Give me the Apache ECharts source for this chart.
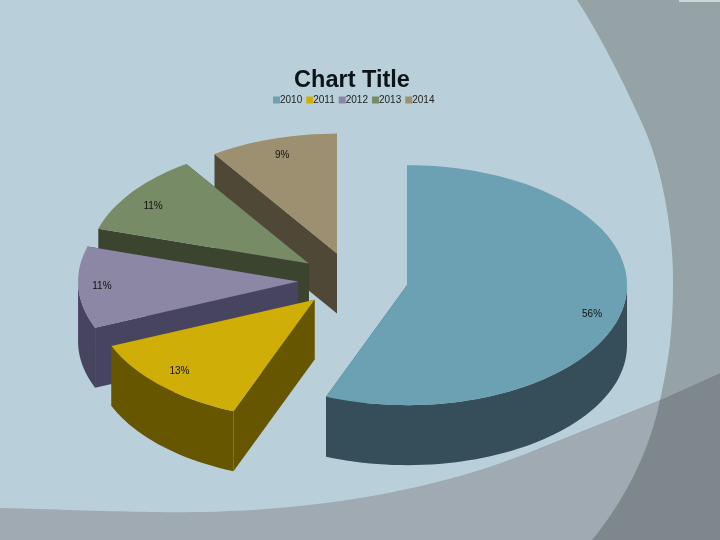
<!DOCTYPE html>
<html>
<head>
<meta charset="utf-8">
<script src="https://cdn.jsdelivr.net/npm/echarts@6/dist/echarts.min.js"></script>
<style>html,body{margin:0;padding:0;background:#B9D0DA}#c{width:720px;height:540px}</style>
</head>
<body>
<div id="c"></div>
<script>
var years = ['2010', '2011', '2012', '2013', '2014'];
var shares = [56.0, 12.7, 11.0, 10.9, 9.4];
var topColors = ['#6BA1B3', '#CFAE08', '#8B87A5', '#768B66', '#9D9070'];
var wallColors = ['#354E5A', '#665600', '#474460', '#3A442F', '#504836'];

var CX = 353, CY = 280, RX = 220, RY = 120, DEPTH = 60, EXPLODE_X = 0.25, EXPLODE_Y = 0.23, LABEL_R = 0.87;
var labelNudgeX = [-3, -1, -5, -2, 1];
var labelNudgeY = [10, -3, 0, 5, 2];
var total = shares.reduce(function (a, b) { return a + b; }, 0);

function pt(cx, cy, deg, fx, fy) {
  var r = deg * Math.PI / 180;
  return [cx + RX * fx * Math.sin(r), cy - RY * (fy === undefined ? fx : fy) * Math.cos(r)];
}
function arc(cx, cy, a, b) {
  var out = [], n = Math.max(2, Math.ceil(Math.abs(b - a) / 2));
  for (var i = 0; i <= n; i++) out.push(pt(cx, cy, a + (b - a) * i / n, 1));
  return out;
}
function down(p) { return [p[0], p[1] + DEPTH]; }

function renderSlice(index) {
  var before = 0;
  for (var i = 0; i < index; i++) before += shares[i];
  var a = before / total * 360, b = (before + shares[index]) / total * 360, mid = (a + b) / 2;
  var apex = pt(CX, CY, mid, EXPLODE_X, EXPLODE_Y);
  var ax = apex[0], ay = apex[1];
  var pa = pt(ax, ay, a, 1), pb = pt(ax, ay, b, 1);
  var kids = [];
  var wall = { fill: wallColors[index] };
  function quad(p) {
    kids.push({ type: 'polygon', shape: { points: [[ax, ay], p, down(p), [ax, ay + DEPTH]] }, style: wall, silent: true });
  }
  quad(pa); quad(pb);
  var wa = Math.max(a, 90), wb = Math.min(b, 270);
  if (wb > wa) {
    var top = arc(ax, ay, wa, wb);
    kids.push({ type: 'polygon', shape: { points: top.concat(top.slice().reverse().map(down)) }, style: wall, silent: true });
  }
  kids.push({ type: 'polygon', shape: { points: [[ax, ay]].concat(arc(ax, ay, a, b)) }, style: { fill: topColors[index] }, silent: true });
  var lp = pt(ax, ay, mid, LABEL_R);
  kids.push({ type: 'text', style: { x: lp[0] + labelNudgeX[index], y: lp[1] + labelNudgeY[index], text: Math.round(shares[index] / total * 100) + '%', fill: '#111', font: '10px "Liberation Sans"', align: 'center', verticalAlign: 'middle' }, silent: true });
  return { type: 'group', children: kids };
}

// backdrop outline helper: cubic segments sampled to a polygon
function curve(p0, p1, p2, p3) {
  var out = [];
  for (var i = 0; i <= 24; i++) {
    var t = i / 24, u = 1 - t;
    out.push([
      u*u*u*p0[0] + 3*u*u*t*p1[0] + 3*u*t*t*p2[0] + t*t*t*p3[0],
      u*u*u*p0[1] + 3*u*u*t*p1[1] + 3*u*t*t*p2[1] + t*t*t*p3[1]
    ]);
  }
  return out;
}
var arcUpper = curve([577,0],[600,35],[625,85],[645,130])
  .concat(curve([645,130],[662,170],[673,230],[673,280]))
  .concat(curve([673,280],[673,325],[670,355],[660,400]));
var arcLower = curve([660,400],[650,450],[625,500],[592,540]);
var band = curve([0,508],[80,510],[150,513],[200,512]).concat(curve([200,512],[320,510],[440,490],[540,448]));

var chart = echarts.init(document.getElementById('c'), null, { renderer: 'canvas' });
chart.setOption({
  animation: false,
  backgroundColor: '#B9D0DA',
  title: {
    text: 'Chart Title', left: 347, top: 64, textAlign: 'center',
    textStyle: { fontFamily: 'Liberation Sans', fontSize: 23.5, fontWeight: 'bold', color: '#0C1418' }
  },
  legend: {
    data: years, icon: 'rect', top: 95, left: 273, padding: 0,
    itemWidth: 7, itemHeight: 7, itemGap: 4,
    textStyle: { fontFamily: 'Liberation Sans', fontSize: 10, color: '#222', padding: [0, 0, 0, -5] }
  },
  graphic: { elements: [
    { type: 'polygon', z: -10, silent: true, shape: { points: arcUpper.concat([[720,373],[720,0]]) }, style: { fill: '#96A3A6' } },
    { type: 'polygon', z: -9, silent: true, shape: { points: band.concat([[660,400],[720,373],[720,540],[0,540]]) }, style: { fill: '#9FAAB3' } },
    { type: 'polygon', z: -8, silent: true, shape: { points: arcLower.concat([[720,540],[720,373]]) }, style: { fill: '#7E878B' } },
    { type: 'rect', z: -7, silent: true, shape: { x: 679, y: 0, width: 41, height: 2 }, style: { fill: '#CDD6D8' } }
  ] },
  series: years.map(function (name, i) {
    return {
      type: 'custom', name: name, coordinateSystem: 'none', z: 10 - i,
      itemStyle: { color: topColors[i] },
      data: [[shares[i]]],
      renderItem: function () { return renderSlice(i); }
    };
  })
});
</script>
</body>
</html>
